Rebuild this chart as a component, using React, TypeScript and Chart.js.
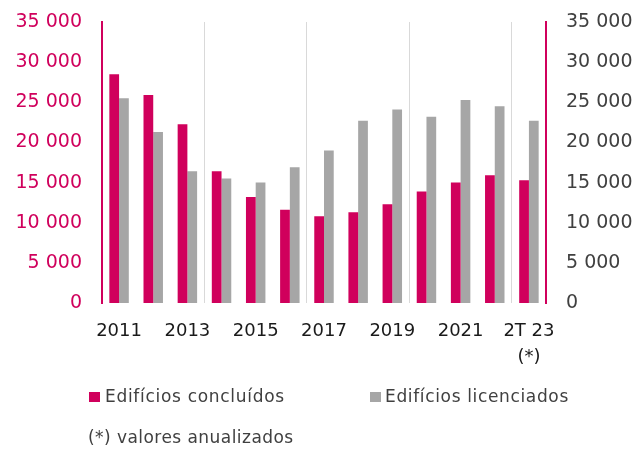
import React, { useEffect, useRef } from "react";
import { Chart, registerables } from "chart.js";

Chart.register(...registerables);

const categories: (string | string[])[] = [
  "2011", "2012", "2013", "2014", "2015", "2016", "2017",
  "2018", "2019", "2020", "2021", "2022", ["2T 23", "(*)"],
];
const concluidos = [28500, 25900, 22250, 16400, 13200, 11600, 10800, 11300, 12300, 13900, 15000, 15900, 15300];
const licenciados = [25500, 21300, 16400, 15500, 15000, 16900, 19000, 22700, 24100, 23200, 25300, 24500, 22700];
const seriesNames = ["Edifícios concluídos", "Edifícios licenciados"];
const footnote = "(*) valores anualizados";
const yMin = 0;
const yMax = 35000;
const yStep = 5000;

const CRIMSON = "#D0005C";
const GREY = "#A6A6A6";
const FONT = "'DejaVu Sans', sans-serif";

const fmt = (v: number) => String(v).replace(/\B(?=(\d{3})+(?!\d))/g, " ");

export default function App() {
  const ref = useRef<HTMLCanvasElement | null>(null);

  useEffect(() => {
    if (!ref.current) return;
    const chart = new Chart(ref.current, {
      type: "bar",
      data: {
        labels: categories,
        datasets: [
          { label: seriesNames[0], data: concluidos, backgroundColor: CRIMSON, yAxisID: "y" },
          { label: seriesNames[1], data: licenciados, backgroundColor: GREY, yAxisID: "y" },
        ],
      },
      options: {
        responsive: false,
        animation: false,
        layout: { padding: { top: 22, left: 0, right: 0, bottom: 0 } },
        datasets: { bar: { categoryPercentage: 0.57, barPercentage: 1 } },
        plugins: { legend: { display: false }, tooltip: { enabled: false } },
        scales: {
          x: {
            offset: true,
            border: { display: false },
            grid: {
              offset: true,
              drawTicks: false,
              lineWidth: 1,
              color: (ctx: any) => (ctx.index > 0 && ctx.index % 3 === 0 && ctx.index < categories.length ? "#D9D9D9" : "rgba(0,0,0,0)"),
            },
            ticks: {
              autoSkip: false,
              maxRotation: 0,
              padding: 15,
              color: "#1A1A1A",
              font: { family: FONT, size: 18, lineHeight: 1.45 },
              callback: (_v: any, i: number) => (i % 2 === 0 ? (categories[i] as any) : ""),
            },
            afterFit: (s: any) => { s.height = 149; s.paddingLeft = 0; s.paddingRight = 0; },
          },
          y: {
            position: "left",
            min: yMin,
            max: yMax,
            border: { display: true, color: CRIMSON, width: 2 },
            grid: { display: false, drawTicks: false },
            ticks: {
              stepSize: yStep,
              padding: 20,
              color: CRIMSON,
              font: { family: FONT, size: 19 },
              callback: (v: any) => fmt(Number(v)),
            },
            afterFit: (s: any) => { s.width = 102; s.paddingTop = 8; s.paddingBottom = 0; },
          },
          y2: {
            position: "right",
            min: yMin,
            max: yMax,
            border: { display: true, color: CRIMSON, width: 2 },
            grid: { display: false, drawTicks: false },
            ticks: {
              stepSize: yStep,
              padding: 20,
              color: "#404040",
              font: { family: FONT, size: 19 },
              callback: (v: any) => fmt(Number(v)),
            },
            afterFit: (s: any) => { s.width = 97; s.paddingTop = 8; s.paddingBottom = 0; },
          },
        },
      },
    } as any);
    return () => chart.destroy();
  }, []);

  const textStyle: React.CSSProperties = {
    position: "absolute",
    fontFamily: FONT,
    fontSize: 17,
    lineHeight: "20px",
    color: "#404040",
    whiteSpace: "nowrap",
  };

  return (
    <div style={{ position: "absolute", left: 0, top: 0, width: 643, height: 452, background: "#fff" }}>
      <canvas ref={ref} width={643} height={452} style={{ position: "absolute", left: 0, top: 0 }} />
      <div style={{ position: "absolute", left: 89, top: 392, width: 11, height: 10, background: CRIMSON }} />
      <div style={{ ...textStyle, left: 105, top: 386, letterSpacing: "0.7px" }}>{seriesNames[0]}</div>
      <div style={{ position: "absolute", left: 370, top: 392, width: 11, height: 10, background: GREY }} />
      <div style={{ ...textStyle, left: 385, top: 386, letterSpacing: "0.65px" }}>{seriesNames[1]}</div>
      <div style={{ ...textStyle, left: 88, top: 427, letterSpacing: "0.45px" }}>{footnote}</div>
    </div>
  );
}
